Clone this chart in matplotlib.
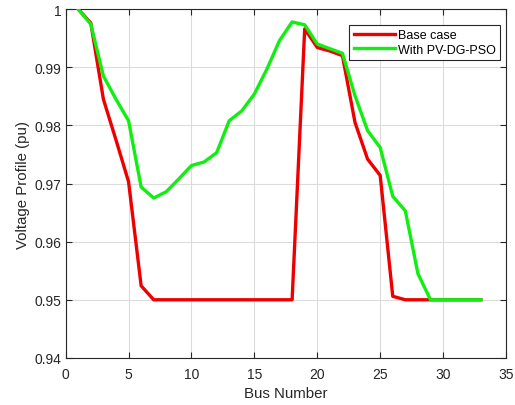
import matplotlib
matplotlib.use("Agg")
import matplotlib.pyplot as plt
from matplotlib.ticker import FixedLocator, FixedFormatter

plt.rcParams['font.family'] = ['Liberation Sans', 'DejaVu Sans']

bus = list(range(1, 34))
base_case = [1.0, 0.9976, 0.9845, 0.9775, 0.9703, 0.9524, 0.9500, 0.9500, 0.9500, 0.9500,
             0.9500, 0.9500, 0.9500, 0.9500, 0.9500, 0.9500, 0.9500, 0.9500, 0.9966, 0.9934,
             0.9928, 0.9920, 0.9805, 0.9742, 0.9714, 0.9506, 0.9500, 0.9500, 0.9500, 0.9500,
             0.9500, 0.9500, 0.9500]
pv_dg_pso = [1.0, 0.9974, 0.9885, 0.9845, 0.9808, 0.9694, 0.9675, 0.9686, 0.9708, 0.9731,
             0.9737, 0.9753, 0.9808, 0.9825, 0.9854, 0.9897, 0.9946, 0.9978, 0.9973, 0.9940,
             0.9932, 0.9924, 0.9851, 0.9791, 0.9762, 0.9678, 0.9653, 0.9545, 0.9500, 0.9500,
             0.9500, 0.9500, 0.9500]
xticks = [0, 5, 10, 15, 20, 25, 30, 35]
yticks = [0.94, 0.95, 0.96, 0.97, 0.98, 0.99, 1.0]
ytick_labels = ['0.94', '0.95', '0.96', '0.97', '0.98', '0.99', '1']

fig = plt.figure(figsize=(5.15, 4.06), dpi=100)
ax = fig.add_axes([0.1275, 0.116, 0.855, 0.859])
ax.plot(bus, base_case, color='#ee0000', lw=2.4, label='Base case', zorder=2)
ax.plot(bus, pv_dg_pso, color='#11ee11', lw=2.4, label='With PV-DG-PSO', zorder=3)
ax.set_xlim(0, 35)
ax.set_ylim(0.94, 1.0)
ax.xaxis.set_major_locator(FixedLocator(xticks))
ax.yaxis.set_major_locator(FixedLocator(yticks))
ax.yaxis.set_major_formatter(FixedFormatter(ytick_labels))
ax.grid(True, color='#dcdcdc', lw=0.8)
ax.set_axisbelow(True)
ax.tick_params(direction='in', top=True, right=True, labelsize=10, colors='#262626', length=4)
ax.tick_params(axis='x', pad=6.5)
ax.tick_params(axis='y', pad=3)
for s in ax.spines.values():
    s.set_color('#262626')
    s.set_linewidth(0.8)
ax.set_xlabel('Bus Number', fontsize=10.8, color='#262626', labelpad=4)
ax.set_ylabel('Voltage Profile (pu)', fontsize=10.8, color='#262626', labelpad=3)
leg = ax.legend(loc='upper right', bbox_to_anchor=(0.9875, 0.955), borderaxespad=0,
                fontsize=9, fancybox=False, edgecolor='#262626', framealpha=1,
                handlelength=3.3, borderpad=0.35, labelspacing=0.2, handletextpad=0.25)
leg.get_frame().set_linewidth(0.8)
fig.savefig('out.png', dpi=100)
